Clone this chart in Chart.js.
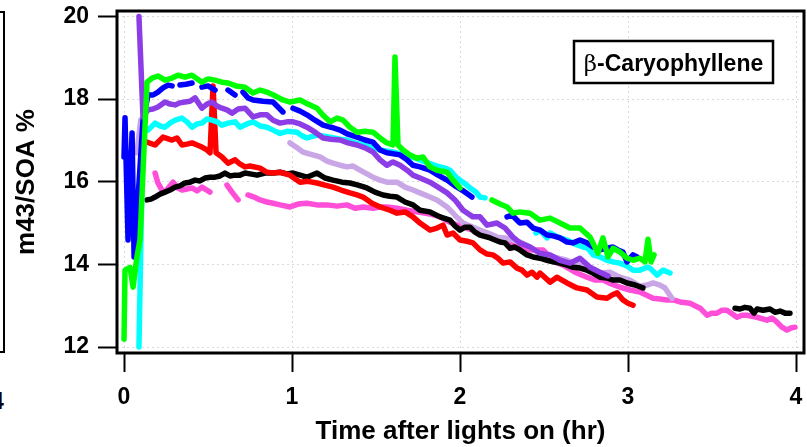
<!DOCTYPE html>
<html>
<head>
<meta charset="utf-8">
<title>m43/SOA - beta-Caryophyllene</title>
<script src="https://cdn.jsdelivr.net/npm/chart.js@4.4.1/dist/chart.umd.min.js"></script>
<style>
  html, body { margin: 0; padding: 0; background: #fff; }
  #wrap { position: relative; width: 807px; height: 447px; overflow: hidden; }
  #chart { position: absolute; left: 0; top: 0; }
  /* right edge of the neighbouring panel */
  .prev-panel { position: absolute; left: -20px; top: 11px; width: 23px; height: 338px;
                border: 2px solid #000; border-left: none; }
  .prev-tick { position: absolute; left: -9px; top: 388px; line-height: 23px;
               font: bold 23px "Liberation Sans", Arial, sans-serif; color: #000; }
</style>
</head>
<body>
<div id="wrap">
  <div class="prev-panel"></div>
  <div class="prev-tick">4</div>
  <canvas id="chart" width="807" height="447"></canvas>
</div>
<script>
// time after lights on (hr) and m43/SOA (%) for each experiment; null = gap in the record
var greenT = [0.00, 0.006, 0.036, 0.054, 0.077, 0.095, 0.137, 0.167, 0.202, 0.244, 0.286, 0.321, 0.363, 0.405, 0.464, 0.500, 0.542, 0.583, 0.619, 0.667, 0.720, 0.768, 0.810, 0.851, 0.899, 0.946, 0.988, 1.048, 1.095, 1.149, 1.190, 1.226, 1.268, 1.304, 1.345, 1.387, 1.435, 1.482, 1.524, 1.565, 1.601, 1.613, 1.631, 1.661, 1.702, 1.744, 1.780, 1.821, 1.863, 1.923, 1.958, 2.000, 2.10, 2.190, 2.238, 2.280, 2.315, 2.357, 2.417, 2.476, 2.536, 2.595, 2.655, 2.714, 2.774, 2.821, 2.851, 2.881, 2.911, 2.952, 2.994, 3.030, 3.071, 3.101, 3.119, 3.137, 3.155];
var greenY = [12.19, 13.86, 13.93, 13.45, 14.18, 14.59, 18.41, 18.51, 18.56, 18.46, 18.51, 18.58, 18.53, 18.58, 18.41, 18.49, 18.46, 18.41, 18.39, 18.32, 18.29, 18.15, 18.22, 18.17, 18.08, 17.98, 17.93, 17.98, 17.88, 17.78, 17.59, 17.45, 17.54, 17.49, 17.32, 17.20, 17.22, 17.20, 17.06, 16.94, 16.89, 19.02, 16.89, 16.77, 16.65, 16.57, 16.60, 16.36, 16.28, 16.23, 16.04, 15.85, null, 15.56, 15.46, 15.39, 15.24, 15.27, 15.24, 15.07, 15.12, 15.00, 14.88, 14.88, 14.66, 14.27, 14.64, 14.18, 14.39, 14.30, 14.15, 14.10, 14.15, 14.06, 14.61, 14.06, 14.23];

var purpleT = [0.089, 0.113, 0.143, 0.173, 0.202, 0.244, 0.274, 0.304, 0.333, 0.363, 0.393, 0.423, 0.464, 0.494, 0.524, 0.554, 0.583, 0.613, 0.643, 0.679, 0.720, 0.768, 0.810, 0.851, 0.887, 0.929, 0.970, 1.006, 1.048, 1.089, 1.137, 1.185, 1.232, 1.286, 1.333, 1.387, 1.435, 1.482, 1.524, 1.565, 1.601, 1.643, 1.685, 1.720, 1.762, 1.821, 1.869, 1.923, 1.970, 2.018, 2.077, 2.119, 2.161, 2.220, 2.268, 2.315, 2.357, 2.417, 2.476, 2.536, 2.595, 2.655, 2.714, 2.774, 2.833, 2.881];
var purpleY = [20.00, 17.57, 17.74, 17.76, 17.81, 17.93, 17.88, 17.86, 17.91, 17.93, 17.95, 18.03, 17.78, 17.88, 17.93, 17.83, 17.78, 17.74, 17.66, 17.76, 17.78, 17.57, 17.62, 17.62, 17.49, 17.42, 17.45, 17.45, 17.40, 17.32, 17.20, 17.06, 17.03, 17.01, 16.94, 16.89, 16.82, 16.72, 16.53, 16.40, 16.48, 16.40, 16.28, 16.16, 16.09, 15.99, 15.87, 15.73, 15.56, 15.31, 15.15, 15.15, 14.95, 15.00, 14.88, 14.66, 14.52, 14.42, 14.27, 14.23, 14.10, 14.03, 14.15, 13.93, 13.81, 13.72];

var blueT = [0.000, 0.006, 0.024, 0.048, 0.060, 0.077, 0.113, 0.143, 0.173, 0.202, 0.232, 0.262, 0.286, 0.300, 0.333, 0.369, 0.405, 0.420, 0.464, 0.500, 0.542, 0.580, 0.619, 0.661, 0.690, 0.708, 0.738, 0.768, 0.827, 0.887, 0.946, 0.976, 1.006, 1.048, 1.089, 1.137, 1.185, 1.232, 1.286, 1.333, 1.387, 1.435, 1.482, 1.524, 1.565, 1.643, 1.685, 1.720, 1.762, 1.821, 1.869, 1.923, 1.970, 2.012, 2.071, 2.150, 2.280, 2.310, 2.357, 2.399, 2.435, 2.476, 2.518, 2.554, 2.595, 2.637, 2.673, 2.714, 2.756, 2.792, 2.833, 2.875, 2.911, 2.940, 2.970, 2.994, 3.030, 3.054];
var blueY = [16.60, 17.55, 14.59, 17.18, 14.18, 15.19, 17.49, 18.10, 18.10, 18.17, 18.27, 18.34, 18.32, null, 18.34, 18.36, 18.39, null, 18.29, 18.32, 18.22, null, 18.22, 18.10, null, 18.17, 18.03, 17.98, 17.95, 17.93, 17.69, null, 17.78, 17.71, 17.62, 17.49, 17.37, 17.32, 17.25, 17.15, 17.08, 17.01, 16.96, 16.77, 16.70, 16.65, 16.53, 16.40, 16.36, 16.28, 16.16, 16.04, 15.90, 15.80, 15.63, null, 15.15, 15.19, 15.00, 15.02, 14.88, 14.83, 14.71, 14.69, 14.64, 14.54, 14.52, 14.59, 14.52, 14.42, 14.35, 14.39, 14.42, 14.35, 14.30, 14.06, 14.23, 14.18];

var cyanT = [0.089, 0.113, 0.143, 0.185, 0.214, 0.244, 0.274, 0.304, 0.345, 0.375, 0.405, 0.435, 0.464, 0.494, 0.524, 0.554, 0.583, 0.619, 0.661, 0.690, 0.732, 0.768, 0.810, 0.851, 0.887, 0.929, 0.970, 1.030, 1.060, 1.089, 1.149, 1.226, 1.286, 1.327, 1.375, 1.423, 1.464, 1.524, 1.601, 1.702, 1.792, 1.863, 1.911, 1.940, 1.982, 2.018, 2.060, 2.095, 2.119, 2.149, 2.30, 2.452, 2.476, 2.518, 2.536, 2.583, 2.637, 2.685, 2.732, 2.762, 2.792, 2.833, 2.875, 2.911, 2.952, 2.994, 3.030, 3.071, 3.113, 3.131, 3.173, 3.208, 3.250];
var cyanY = [12.00, 17.32, 17.25, 17.42, 17.35, 17.32, 17.42, 17.49, 17.54, 17.45, 17.32, 17.40, 17.42, 17.52, 17.49, 17.45, 17.37, 17.42, 17.45, 17.32, 17.40, 17.45, 17.35, 17.32, 17.25, 17.17, 17.22, 17.20, 17.11, 17.06, 17.13, 17.08, 17.03, 17.01, 16.94, 16.89, 16.84, 16.77, 16.72, 16.62, 16.48, 16.38, 16.33, 16.28, 16.09, 15.99, 15.85, 15.75, 15.63, 15.61, null, 14.76, 14.83, 14.64, 14.76, 14.66, 14.59, 14.49, 14.42, 14.39, 14.23, 14.18, 14.10, 14.06, 14.03, 13.96, 13.86, 13.86, 13.93, 13.91, 13.74, 13.86, 13.79];

var redT = [0.137, 0.185, 0.232, 0.286, 0.315, 0.345, 0.375, 0.405, 0.435, 0.464, 0.494, 0.512, 0.530, 0.548, 0.583, 0.619, 0.661, 0.690, 0.720, 0.750, 0.810, 0.851, 0.887, 0.929, 0.988, 1.048, 1.095, 1.149, 1.196, 1.244, 1.292, 1.345, 1.387, 1.423, 1.476, 1.524, 1.583, 1.625, 1.673, 1.720, 1.762, 1.821, 1.863, 1.899, 1.923, 1.958, 2.000, 2.042, 2.077, 2.119, 2.161, 2.196, 2.226, 2.256, 2.298, 2.339, 2.369, 2.399, 2.429, 2.458, 2.476, 2.536, 2.577, 2.607, 2.637, 2.696, 2.756, 2.815, 2.875, 2.905, 2.935, 2.970, 3.000, 3.030];
var redY = [16.96, 16.89, 17.08, 17.01, 17.06, 16.89, 16.91, 16.94, 16.89, 16.84, 16.77, 16.70, 18.32, 16.70, 16.60, 16.45, 16.53, 16.43, 16.36, 16.38, 16.33, 16.23, 16.21, 16.23, 16.16, 15.99, 16.01, 15.97, 15.92, 15.87, 15.80, 15.73, 15.68, 15.63, 15.48, 15.39, 15.31, 15.24, 15.27, 15.15, 15.00, 14.83, 14.88, 14.95, 14.71, 14.76, 14.59, 14.56, 14.52, 14.35, 14.25, 14.23, 14.15, 14.03, 14.06, 13.91, 13.86, 13.74, 13.81, 13.69, 13.79, 13.57, 13.69, 13.62, 13.55, 13.43, 13.38, 13.21, 13.18, 13.26, 13.31, 13.14, 13.06, 13.01];

var blackT = [0.137, 0.161, 0.185, 0.214, 0.244, 0.274, 0.304, 0.333, 0.363, 0.393, 0.423, 0.452, 0.482, 0.512, 0.542, 0.571, 0.601, 0.631, 0.661, 0.690, 0.720, 0.750, 0.792, 0.839, 0.887, 0.929, 0.970, 1.006, 1.048, 1.089, 1.149, 1.196, 1.244, 1.298, 1.345, 1.393, 1.446, 1.494, 1.542, 1.583, 1.625, 1.673, 1.720, 1.762, 1.821, 1.881, 1.940, 1.970, 2.000, 2.030, 2.060, 2.089, 2.119, 2.179, 2.238, 2.268, 2.298, 2.327, 2.357, 2.399, 2.435, 2.476, 2.518, 2.554, 2.595, 2.637, 2.673, 2.714, 2.756, 2.792, 2.833, 2.875, 2.911, 2.952, 2.994, 3.042, 3.089, 3.30, 3.637, 3.667, 3.696, 3.726, 3.750, 3.768, 3.804, 3.845, 3.875, 3.905, 3.935, 3.964];
var blackY = [15.56, 15.58, 15.63, 15.70, 15.75, 15.80, 15.87, 15.90, 15.97, 15.99, 16.04, 16.02, 16.09, 16.11, 16.11, 16.14, 16.21, 16.14, 16.16, 16.16, 16.21, 16.19, 16.16, 16.21, 16.21, 16.23, 16.19, 16.21, 16.16, 16.11, 16.21, 16.09, 16.04, 15.99, 15.97, 15.92, 15.85, 15.75, 15.68, 15.65, 15.63, 15.51, 15.44, 15.31, 15.27, 15.15, 15.07, 14.93, 14.83, 14.90, 14.90, 14.78, 14.71, 14.64, 14.54, 14.52, 14.39, 14.42, 14.35, 14.23, 14.18, 14.15, 14.10, 14.06, 14.03, 13.98, 13.93, 13.91, 13.86, 13.79, 13.69, 13.67, 13.62, 13.62, 13.55, 13.50, 13.43, null, 12.94, 12.92, 12.96, 12.94, 12.82, 12.92, 12.89, 12.92, 12.84, 12.87, 12.82, 12.82];

var lavenderT = [0.077, 0.100, 0.50, 0.988, 1.030, 1.065, 1.107, 1.167, 1.208, 1.244, 1.286, 1.327, 1.363, 1.405, 1.446, 1.482, 1.524, 1.565, 1.625, 1.673, 1.720, 1.762, 1.821, 1.863, 1.923, 1.970, 2.018, 2.060, 2.119, 2.167, 2.220, 2.268, 2.315, 2.357, 2.417, 2.476, 2.554, 2.637, 2.714, 2.774, 2.833, 2.893, 2.952, 3.012, 3.071, 3.113, 3.149, 3.190, 3.220, 3.262];
var lavenderY = [16.70, 17.50, null, 16.94, 16.82, 16.72, 16.67, 16.60, 16.50, 16.45, 16.40, 16.36, 16.38, 16.28, 16.19, 16.11, 16.04, 15.99, 15.99, 15.87, 15.80, 15.73, 15.63, 15.56, 15.39, 15.19, 15.00, 14.93, 14.83, 14.76, 14.66, 14.64, 14.59, 14.54, 14.42, 14.27, 14.18, 14.10, 13.98, 13.86, 13.79, 13.81, 13.69, 13.62, 13.47, 13.50, 13.55, 13.50, 13.43, 13.18];

var magentaT = [0.185, 0.202, 0.226, 0.244, 0.292, 0.321, 0.345, 0.405, 0.435, 0.464, 0.512, 0.560, 0.613, 0.643, 0.679, 0.705, 0.738, 0.774, 0.810, 0.851, 0.887, 0.929, 0.988, 1.036, 1.089, 1.149, 1.208, 1.268, 1.327, 1.375, 1.423, 1.482, 1.524, 1.565, 1.625, 1.685, 1.744, 1.821, 1.881, 1.940, 2.000, 2.060, 2.119, 2.179, 2.238, 2.298, 2.357, 2.417, 2.494, 2.565, 2.625, 2.685, 2.756, 2.804, 2.851, 2.905, 2.952, 3.012, 3.071, 3.149, 3.190, 3.232, 3.268, 3.310, 3.369, 3.429, 3.470, 3.500, 3.530, 3.560, 3.589, 3.649, 3.679, 3.708, 3.768, 3.827, 3.857, 3.887, 3.917, 3.946, 3.970, 3.994];
var magentaY = [16.21, 15.97, 15.80, 15.75, 15.99, 15.85, 15.80, 15.85, 15.78, 15.87, 15.75, null, 15.92, 15.75, 15.56, null, 15.68, 15.63, 15.56, 15.51, 15.48, 15.44, 15.39, 15.46, 15.48, 15.44, 15.44, 15.41, 15.44, 15.36, 15.39, 15.36, 15.39, 15.39, 15.36, 15.31, 15.27, 15.22, 15.15, 15.02, 14.93, 14.85, 14.76, 14.69, 14.59, 14.52, 14.39, 14.35, 14.35, 14.06, 13.96, 13.81, 13.69, 13.62, 13.62, 13.52, 13.45, 13.38, 13.33, 13.18, 13.16, 13.14, 13.14, 13.09, 13.06, 12.94, 12.77, 12.82, 12.82, 12.89, 12.89, 12.72, 12.77, 12.77, 12.72, 12.65, 12.70, 12.60, 12.48, 12.41, 12.46, 12.48];

var xTicks = [0, 1, 2, 3, 4];
var yTicks = [12, 14, 16, 18, 20];
var boxLabel = ['\u03B2', '-Caryophyllene'];

var FONT = '"Liberation Sans", Arial, Helvetica, sans-serif';
Chart.defaults.font.family = FONT;
Chart.defaults.color = '#000';

function series(label, ts, ys, color) {
    return {
        label: label,
        data: ts.map(function(t, i) { return { x: t, y: ys[i] }; }),
        borderColor: color,
        backgroundColor: color,
        borderWidth: 5.5,
        pointRadius: 0,
        tension: 0,
        spanGaps: false,
        borderCapStyle: 'round',
        borderJoinStyle: 'round'
    };
}

// frame round the plot area, drawn over the data
var framePlugin = {
    id: 'frame',
    afterDraw: function(chart) {
        var a = chart.chartArea, c = chart.ctx;
        c.save();
        c.strokeStyle = '#000';
        c.lineWidth = 3;
        c.strokeRect(a.left, a.top, a.right - a.left, a.bottom - a.top);
        c.restore();
    }
};

// boxed compound name in the upper right corner
var namePlugin = {
    id: 'namebox',
    afterDraw: function(chart) {
        var a = chart.chartArea, c = chart.ctx;
        var x0 = a.right - 230, y0 = a.top + 30, w = 199, h = 42;
        c.save();
        c.fillStyle = '#fff';
        c.fillRect(x0, y0, w, h);
        c.strokeStyle = '#000';
        c.lineWidth = 2.5;
        c.strokeRect(x0, y0, w, h);
        var f1 = '23px "DejaVu Serif", "Liberation Serif", serif';
        var f2 = 'bold 23px ' + FONT;
        c.font = f1;
        var w1 = c.measureText(boxLabel[0]).width;
        c.font = f2;
        var w2 = c.measureText(boxLabel[1]).width;
        var tx = x0 + (w - w1 - w2) / 2, ty = y0 + 30;
        c.fillStyle = '#000';
        c.textBaseline = 'alphabetic';
        c.font = f1;
        c.fillText(boxLabel[0], tx, ty);
        c.font = f2;
        c.fillText(boxLabel[1], tx + w1, ty);
        c.restore();
    }
};

// keep the plot area where the layout puts it: no extra room for half-labels
function noLabelPadding(s) {
    s.paddingTop = 0;
    s.paddingBottom = 0;
    s.paddingLeft = 0;
    s.paddingRight = 0;
}

var gridCommon = {
    color: '#d9d9d9',
    lineWidth: 1,
    drawTicks: true,
    tickLength: 19,
    tickColor: '#000',
    tickWidth: 2,
    tickBorderDash: []
};

new Chart(document.getElementById('chart'), {
    type: 'line',
    data: {
        datasets: [
            series('green', greenT, greenY, '#00ff00'),
            series('purple', purpleT, purpleY, '#8d3de6'),
            series('blue', blueT, blueY, '#0000ff'),
            series('cyan', cyanT, cyanY, '#00ffff'),
            series('red', redT, redY, '#ff0000'),
            series('black', blackT, blackY, '#000000'),
            series('lavender', lavenderT, lavenderY, '#c9a7e6'),
            series('magenta', magentaT, magentaY, '#ff4fd8')
        ]
    },
    options: {
        responsive: false,
        animation: false,
        devicePixelRatio: 1,
        layout: { padding: { left: 0, right: 3, top: 11, bottom: 0 } },
        plugins: {
            legend: { display: false },
            tooltip: { enabled: false }
        },
        scales: {
            x: {
                type: 'linear',
                min: -0.0417,
                max: 4.0476,
                afterBuildTicks: function(s) { s.ticks = xTicks.map(function(v) { return { value: v }; }); },
                afterFit: function(s) { s.height = 94; noLabelPadding(s); },
                grid: gridCommon,
                border: { display: false, dash: [2, 3] },
                ticks: {
                    padding: 12,
                    maxRotation: 0,
                    autoSkip: false,
                    font: { size: 23, weight: 'bold' }
                },
                title: {
                    display: true,
                    text: 'Time after lights on (hr)',
                    font: { size: 26, weight: 'bold' },
                    padding: { top: 0, bottom: 0 }
                }
            },
            y: {
                type: 'linear',
                min: 11.855,
                max: 20.133,
                afterBuildTicks: function(s) { s.ticks = yTicks.map(function(v) { return { value: v }; }); },
                afterFit: function(s) { s.width = 117; noLabelPadding(s); },
                grid: gridCommon,
                border: { display: false, dash: [2, 3] },
                ticks: {
                    padding: 9,
                    autoSkip: false,
                    font: { size: 23, weight: 'bold' }
                },
                title: {
                    display: true,
                    text: 'm43/SOA %',
                    font: { size: 26, weight: 'bold' },
                    padding: { top: 11, bottom: 0 }
                }
            }
        }
    },
    plugins: [framePlugin, namePlugin]
});
</script>
</body>
</html>
